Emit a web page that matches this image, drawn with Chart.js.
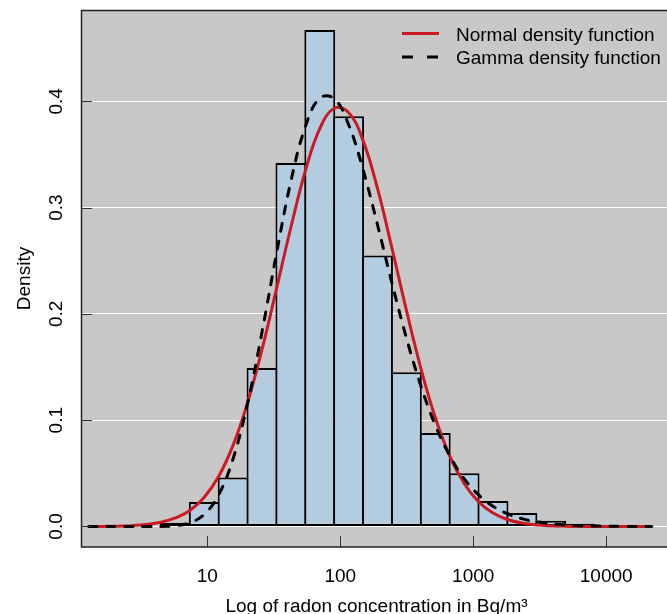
<!DOCTYPE html>
<html>
<head>
<meta charset="utf-8">
<script src="https://cdn.jsdelivr.net/npm/chart.js@4.4.0/dist/chart.umd.min.js"></script>
<style>
  html, body { margin: 0; padding: 0; background: #fff; overflow: hidden; }
  #radonChart { display: block; }
</style>
</head>
<body>
<canvas id="radonChart" width="680" height="620"></canvas>
<script>
// Histogram bins on ln(concentration), lower edge of each bin
const binStarts = [1.5, 2.0, 2.5, 3.0, 3.5, 4.0, 4.5, 5.0, 5.5, 6.0, 6.5, 7.0, 7.5, 8.0, 8.5];
const binWidth = 0.5;
const binDensity = [0.0036, 0.023, 0.046, 0.149, 0.342, 0.467, 0.386, 0.255, 0.145, 0.088, 0.050, 0.024, 0.0127, 0.0054, 0.0025];

// Fitted curves
const curveX = [0.25, 0.5, 0.75, 1.0, 1.25, 1.5, 1.75, 2.0, 2.25, 2.5, 2.75, 3.0, 3.25, 3.5, 3.75, 4.0, 4.25, 4.5,
    4.75, 5.0, 5.25, 5.5, 5.75, 6.0, 6.25, 6.5, 6.75, 7.0, 7.25, 7.5, 7.75, 8.0, 8.5, 9.0, 9.5, 10.0];
const normalDensity = [0.0000, 0.0001, 0.0003, 0.0008, 0.0019, 0.0040, 0.0080, 0.0150, 0.0275, 0.0472, 0.0765, 0.1165,
    0.1665, 0.2235, 0.2815, 0.3345, 0.3742, 0.3935, 0.3895, 0.3630, 0.3180, 0.2620, 0.2035, 0.1490, 0.1025, 0.0665,
    0.0405, 0.0233, 0.0127, 0.0066, 0.0032, 0.0015, 0.0003, 0.0000, 0.0000, 0.0000];
const gammaDensity = [0.0000, 0.0000, 0.0000, 0.0000, 0.0000, 0.0001, 0.0007, 0.0034, 0.0114, 0.0298, 0.0639, 0.1159,
    0.1830, 0.2567, 0.3247, 0.3760, 0.4030, 0.4025, 0.3780, 0.3356, 0.2837, 0.2290, 0.1775, 0.1324, 0.0954, 0.0666,
    0.0450, 0.0297, 0.0191, 0.0120, 0.0074, 0.0044, 0.0015, 0.0005, 0.0001, 0.0000];

const xTickLabels = [10, 100, 1000, 10000];
const yTicks = [0, 0.1, 0.2, 0.3, 0.4];

Chart.defaults.font.family = '"Liberation Sans", Arial, Helvetica, sans-serif';
Chart.defaults.font.size = 19;
Chart.defaults.color = '#000';

// grey panel behind the plot
const plotBackground = {
    id: 'plotBackground',
    beforeDraw(chart) {
        const { ctx, chartArea: a } = chart;
        ctx.save();
        ctx.fillStyle = '#C8C8C8';
        ctx.fillRect(a.left, a.top, a.right - a.left, a.bottom - a.top);
        ctx.restore();
    }
};

// frame, inward ticks, rotated y labels and the legend
const plotDecor = {
    id: 'plotDecor',
    afterDraw(chart) {
        const { ctx, chartArea: a, scales } = chart;
        ctx.save();

        ctx.strokeStyle = '#222';
        ctx.lineWidth = 1.5;
        ctx.strokeRect(a.left + 0.5, a.top + 0.5, a.right - a.left, a.bottom - a.top - 0.5);

        ctx.lineWidth = 1;
        ctx.strokeStyle = '#333';
        scales.y.ticks.forEach(t => {
            const py = Math.round(scales.y.getPixelForValue(t.value)) + 0.5;
            ctx.beginPath();
            ctx.moveTo(a.left, py);
            ctx.lineTo(a.left + 11, py);
            ctx.stroke();
        });
        scales.x.ticks.forEach(t => {
            const px = Math.round(scales.x.getPixelForValue(t.value)) + 0.5;
            ctx.beginPath();
            ctx.moveTo(px, a.bottom);
            ctx.lineTo(px, a.bottom - 11);
            ctx.stroke();
        });

        ctx.fillStyle = '#000';
        ctx.font = '19px "Liberation Sans", Arial, sans-serif';
        ctx.textAlign = 'center';
        ctx.textBaseline = 'alphabetic';
        scales.y.ticks.forEach(t => {
            const py = scales.y.getPixelForValue(t.value);
            ctx.save();
            ctx.translate(a.left - 19.5, py);
            ctx.rotate(-Math.PI / 2);
            ctx.fillText(t.value.toFixed(1), 0, 0);
            ctx.restore();
        });

        // legend
        const lines = chart.data.datasets.filter(d => d.type === 'line');
        ctx.textAlign = 'left';
        lines.forEach((d, i) => {
            const y = a.top + 23.5 + i * 23.5;
            ctx.beginPath();
            ctx.strokeStyle = d.borderColor;
            ctx.lineWidth = d.borderWidth;
            ctx.lineCap = 'butt';
            ctx.setLineDash(d.borderDash ? [11, 14] : []);
            ctx.moveTo(a.right - 270, y);
            ctx.lineTo(a.right - 233, y);
            ctx.stroke();
            ctx.setLineDash([]);
            ctx.fillText(d.label, a.right - 216, y + 7);
        });
        ctx.restore();
    }
};

const ctx = document.getElementById('radonChart');
window.radonChart = new Chart(ctx.getContext('2d'), {
    type: 'bar',
    data: {
        datasets: [{
            type: 'line',
            label: 'Normal density function',
            data: curveX.map((x, i) => ({ x: x, y: normalDensity[i] })),
            borderColor: '#CC1A22',
            borderWidth: 3,
            pointRadius: 0,
            tension: 0.4,
            order: 1
        }, {
            type: 'line',
            label: 'Gamma density function',
            data: curveX.map((x, i) => ({ x: x, y: gammaDensity[i] })),
            borderColor: '#000',
            borderWidth: 3,
            borderDash: [8, 10],
            borderCapStyle: 'round',
            pointRadius: 0,
            tension: 0.4,
            order: 0
        }, {
            type: 'bar',
            label: 'Histogram',
            data: binStarts.map((s, i) => ({ x: s + binWidth / 2, y: binDensity[i] })),
            backgroundColor: '#B3CCDF',
            borderColor: '#000',
            borderWidth: 2,
            borderSkipped: false,
            barPercentage: 1.069,
            categoryPercentage: 1,
            order: 2
        }]
    },
    options: {
        responsive: false,
        animation: false,
        devicePixelRatio: 1,
        layout: { padding: { top: 10, right: 8, left: 0, bottom: 0 } },
        plugins: {
            legend: { display: false },
            tooltip: { enabled: false }
        },
        scales: {
            x: {
                type: 'linear',
                min: 0.115,
                max: 10.35,
                offset: false,
                grid: { display: false, drawTicks: false },
                border: { display: false },
                afterBuildTicks: scale => { scale.ticks = xTickLabels.map(v => ({ value: Math.log(v) })); },
                ticks: {
                    callback: (v, i) => String(xTickLabels[i]),
                    padding: 18,
                    maxRotation: 0,
                    autoSkip: false
                },
                title: {
                    display: true,
                    text: 'Log of radon concentration in Bq/m³',
                    padding: { top: 0, bottom: 2 }
                },
                afterFit: scale => { scale.height = 73; }
            },
            y: {
                min: -0.0193,
                max: 0.4859,
                grid: { color: '#FFFFFF', lineWidth: 1, drawTicks: false },
                border: { display: false },
                afterBuildTicks: scale => { scale.ticks = yTicks.map(v => ({ value: v })); },
                ticks: { display: false },
                title: {
                    display: true,
                    text: 'Density',
                    padding: { top: 13, bottom: 0 }
                },
                afterFit: scale => { scale.width = 81; }
            }
        }
    },
    plugins: [plotBackground, plotDecor]
});
</script>
</body>
</html>
